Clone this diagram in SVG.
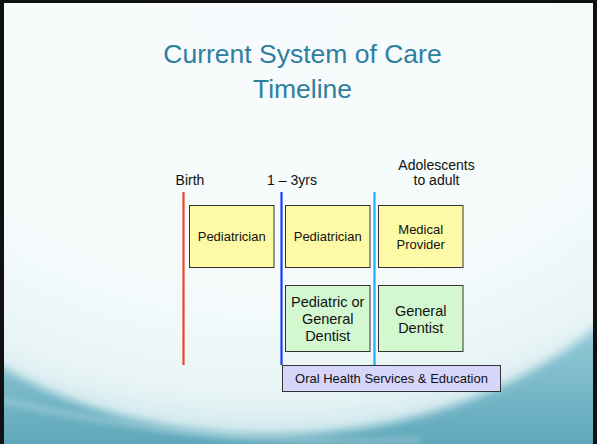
<svg xmlns="http://www.w3.org/2000/svg" width="597" height="444" viewBox="0 0 597 444">
  <defs>
    <linearGradient id="teal" x1="0" y1="0" x2="0" y2="1">
      <stop offset="0" stop-color="#d6edf1"/>
      <stop offset="0.7" stop-color="#9ccfdb"/>
      <stop offset="1" stop-color="#5fa8bb"/>
    </linearGradient>
    <radialGradient id="dome" cx="0.5" cy="0.35" r="0.65">
      <stop offset="0" stop-color="#f8fbfd"/>
      <stop offset="0.7" stop-color="#f4fafb"/>
      <stop offset="0.92" stop-color="#e6f3f5"/>
      <stop offset="1" stop-color="#cfe8ed"/>
    </radialGradient>
    <filter id="soft" x="-10%" y="-10%" width="120%" height="120%">
      <feGaussianBlur stdDeviation="5"/>
    </filter>
    <filter id="soft2" x="-10%" y="-50%" width="120%" height="200%">
      <feGaussianBlur stdDeviation="3"/>
    </filter>
  </defs>
  <style>
    .lbl { font-family: "Liberation Sans", Arial, sans-serif; fill: #111; text-anchor: middle; }
    .ttl { font-family: "Liberation Sans", Arial, sans-serif; font-size: 26.5px; fill: #2e7fa0; text-anchor: middle; }
    .box { stroke: #333; stroke-width: 1; }
    .yel { fill: #fdfaa6; }
    .grn { fill: #d3f8d0; }
    .pur { fill: #d6d6fb; }
    .tl { stroke-width: 2.2; }
  </style>
  <rect x="0" y="0" width="597" height="444" fill="url(#teal)"/>
  <path d="M-20,395 C120,430 260,445 420,440" fill="none" stroke="#ffffff" stroke-width="4" opacity="0.35" filter="url(#soft2)"/>
  <ellipse cx="270" cy="115" rx="435" ry="320" fill="url(#dome)" filter="url(#soft)"/>
  <path d="M0,0 H597 V444 H593 V3 H4 V444 H0 Z" fill="#111"/>
  <text class="ttl" x="302.5" y="63">Current System of Care</text>
  <text class="ttl" x="302.5" y="98">Timeline</text>

  <g id="connectors">
    <line class="tl" x1="183.5" y1="192" x2="183.5" y2="365" stroke="#f0442a"/>
    <line class="tl" x1="281.5" y1="192" x2="281.5" y2="365" stroke="#1c3cf0"/>
    <line class="tl" x1="374.5" y1="192" x2="374.5" y2="365" stroke="#1fb0f5"/>
  </g>

  <g id="birth"><text class="lbl" x="190" y="185" font-size="14">Birth</text></g>
  <g id="age13"><text class="lbl" x="292" y="185" font-size="14">1 – 3yrs</text></g>
  <g id="adolescents">
    <text class="lbl" x="436.5" y="170" font-size="14">Adolescents</text>
    <text class="lbl" x="436.5" y="185" font-size="14">to adult</text>
  </g>

  <g id="pediatrician1">
    <rect class="box yel" x="189.5" y="205.5" width="84.5" height="62"/>
    <text class="lbl" x="231.7" y="241" font-size="13">Pediatrician</text>
  </g>
  <g id="pediatrician2">
    <rect class="box yel" x="285.5" y="205.5" width="84.5" height="62"/>
    <text class="lbl" x="327.7" y="241" font-size="13">Pediatrician</text>
  </g>
  <g id="medical-provider">
    <rect class="box yel" x="378.5" y="205.5" width="84.5" height="62"/>
    <text class="lbl" x="420.7" y="234" font-size="13">Medical</text>
    <text class="lbl" x="420.7" y="248.5" font-size="13">Provider</text>
  </g>
  <g id="pediatric-dentist">
    <rect class="box grn" x="285.5" y="285.5" width="84.5" height="66"/>
    <text class="lbl" x="327.7" y="306.5" font-size="14.5">Pediatric or</text>
    <text class="lbl" x="327.7" y="324" font-size="14.5">General</text>
    <text class="lbl" x="327.7" y="341" font-size="14.5">Dentist</text>
  </g>
  <g id="general-dentist">
    <rect class="box grn" x="378.5" y="285.5" width="84.5" height="66"/>
    <text class="lbl" x="420.7" y="315.5" font-size="14.5">General</text>
    <text class="lbl" x="420.7" y="332.5" font-size="14.5">Dentist</text>
  </g>
  <g id="oral-health">
    <rect class="box pur" x="282.5" y="365.5" width="218" height="26"/>
    <text class="lbl" x="391.5" y="383" font-size="13">Oral Health Services &amp; Education</text>
  </g>
</svg>
